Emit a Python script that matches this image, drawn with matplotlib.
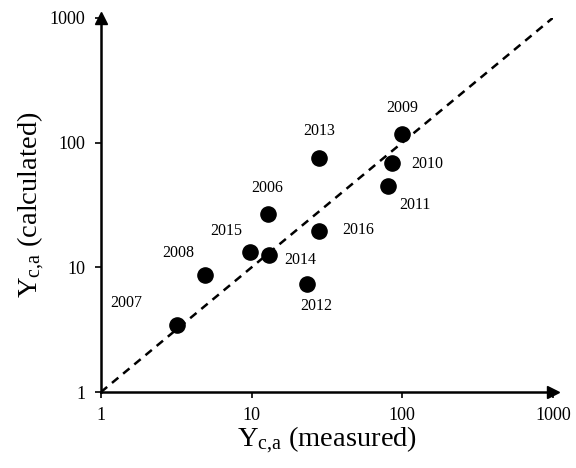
import matplotlib
matplotlib.use("Agg")
import matplotlib.pyplot as plt

plt.rcParams['font.family'] = ['Liberation Serif', 'DejaVu Serif']
plt.rcParams['mathtext.fontset'] = 'custom'
plt.rcParams['mathtext.rm'] = 'Liberation Serif'
plt.rcParams['mathtext.it'] = 'Liberation Serif:italic'

# data
years = ['2006', '2007', '2008', '2009', '2010', '2011', '2012', '2013', '2014', '2015', '2016']
measured = [12.8, 3.2, 4.9, 100, 86, 81, 23.5, 28, 13.0, 9.7, 28]
calculated = [27, 3.45, 8.7, 118, 68, 45, 7.4, 75, 12.6, 13.3, 19.5]

# label offsets in pixels (dx, dy)
offsets = {'2006': (0, 26), '2007': (-51, 22), '2008': (-27, 22), '2009': (0, 26),
           '2010': (35, -1), '2011': (26, -19), '2012': (9, -22), '2013': (0, 27),
           '2014': (32, -5), '2015': (-23, 21), '2016': (39, 1)}

fig = plt.figure(figsize=(5.76, 4.68), dpi=100)
ax = fig.add_axes([0.175, 0.162, 0.785, 0.8])

# 1:1 line
ax.plot([1, 1000], [1, 1000], ls=(0, (3.3, 2.5)), color='black', lw=1.8, zorder=1)
ax.scatter(measured, calculated, s=120, color='black', zorder=2)

for yr, x, y in zip(years, measured, calculated):
    ax.annotate(yr, (x, y), xytext=offsets[yr], textcoords='offset pixels',
                ha='center', va='center', fontsize=11.5)

ax.set_xscale('log')
ax.set_yscale('log')
ax.set_xlim(1, 1000)
ax.set_ylim(1, 1000)
ax.set_xticks([1, 10, 100, 1000], ['1', '10', '100', '1000'])
ax.set_yticks([1, 10, 100, 1000], ['1', '10', '100', '1000'])
ax.minorticks_off()
ax.tick_params(labelsize=13, length=4, width=1.2, direction='out', pad=7)

for s in ['top', 'right']:
    ax.spines[s].set_visible(False)
for s in ['left', 'bottom']:
    ax.spines[s].set_linewidth(1.8)

# arrow heads
ax.plot(1, 0, '>k', ms=9, transform=ax.transAxes, clip_on=False)
ax.plot(0, 1, '^k', ms=9, transform=ax.transAxes, clip_on=False)

ax.set_xlabel(r'Y$_{\mathrm{c{,}a}}$ (measured)', fontsize=20.5, labelpad=0)
ax.set_ylabel(r'Y$_{\mathrm{c{,}a}}$ (calculated)', fontsize=20.5, labelpad=2)

fig.savefig('out.png', dpi=100)
